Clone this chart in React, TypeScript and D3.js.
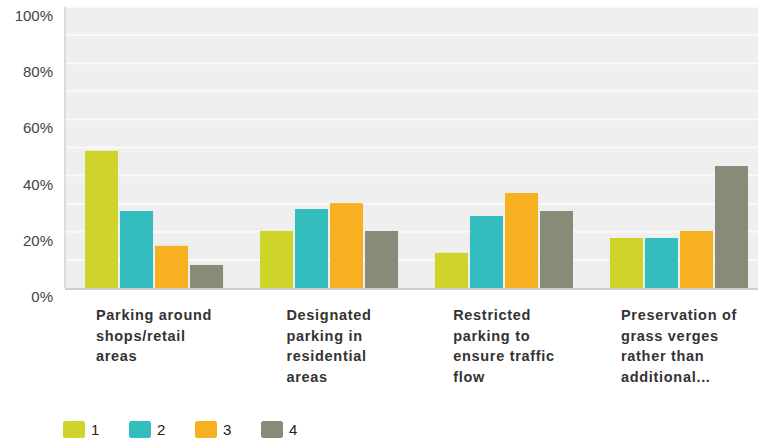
import React, { useEffect, useRef } from "react";
import * as d3 from "d3";

const categories: string[][] = [
  ["Parking around", "shops/retail", "areas"],
  ["Designated", "parking in", "residential", "areas"],
  ["Restricted", "parking to", "ensure traffic", "flow"],
  ["Preservation of", "grass verges", "rather than", "additional..."],
];
const seriesNames = ["1", "2", "3", "4"];
const series1 = [48.8, 20.3, 12.5, 17.8];
const series2 = [27.4, 28.1, 25.6, 17.8];
const series3 = [15.0, 30.2, 33.8, 20.3];
const series4 = [8.2, 20.3, 27.4, 43.4];
const colors = ["#cfd42a", "#33bdbf", "#f7b01f", "#8a8a79"];
const yTicks = [0, 20, 40, 60, 80, 100];
const gridTicks = [10, 20, 30, 40, 50, 60, 70, 80, 90, 100];

const W = 758;
const H = 441;
const FONT = "'Liberation Sans', Arial, sans-serif";

export default function App() {
  const ref = useRef<SVGSVGElement | null>(null);

  useEffect(() => {
    const svg = d3.select(ref.current);
    svg.selectAll("*").remove();
    const allSeries = [series1, series2, series3, series4];

    const left = 66;
    const top = 7;
    const bottom = 288;
    const right = W;

    const y = d3.scaleLinear().domain([0, 100]).range([bottom, top]);
    const x0 = d3
      .scaleBand<number>()
      .domain(d3.range(categories.length))
      .range([64, 769])
      .paddingInner(0.211)
      .paddingOuter(0.12);
    const x1 = d3
      .scaleBand<number>()
      .domain(d3.range(seriesNames.length))
      .range([0, x0.bandwidth()])
      .paddingInner(0.057);

    svg
      .append("rect")
      .attr("x", left)
      .attr("y", top)
      .attr("width", right - left)
      .attr("height", bottom - top)
      .attr("fill", "#efefef");

    svg
      .append("g")
      .selectAll("line")
      .data(gridTicks)
      .join("line")
      .attr("x1", left)
      .attr("x2", right)
      .attr("y1", (d) => y(d))
      .attr("y2", (d) => y(d))
      .attr("stroke", "#fafafa")
      .attr("stroke-width", 2);

    svg
      .append("line")
      .attr("x1", 65)
      .attr("x2", 65)
      .attr("y1", top)
      .attr("y2", bottom)
      .attr("stroke", "#dcdcdc")
      .attr("stroke-width", 2);

    svg
      .append("g")
      .selectAll("text")
      .data(yTicks)
      .join("text")
      .attr("x", 53)
      .attr("y", (d) => y(d) + 14)
      .attr("text-anchor", "end")
      .attr("font-family", FONT)
      .attr("font-size", 15)
      .attr("fill", "#444")
      .text((d) => `${d}%`);

    const groups = svg
      .append("g")
      .selectAll("g")
      .data(categories.map((_, i) => i))
      .join("g")
      .attr("transform", (i) => `translate(${x0(i)},0)`);

    groups
      .selectAll("rect")
      .data((i) => allSeries.map((s, k) => ({ k, v: s[i] })))
      .join("rect")
      .attr("x", (d) => x1(d.k)!)
      .attr("width", x1.bandwidth())
      .attr("y", (d) => y(d.v))
      .attr("height", (d) => bottom - y(d.v))
      .attr("fill", (d) => colors[d.k]);

    svg
      .append("line")
      .attr("x1", 65)
      .attr("x2", right)
      .attr("y1", bottom + 1)
      .attr("y2", bottom + 1)
      .attr("stroke", "#cfcfcf")
      .attr("stroke-width", 2);

    categories.forEach((lines, i) => {
      const g = svg.append("g");
      const texts = g
        .selectAll("text")
        .data(lines)
        .join("text")
        .attr("x", 0)
        .attr("y", (_, j) => 320 + j * 20.5)
        .attr("font-family", FONT)
        .attr("font-size", 14.5)
        .attr("font-weight", "bold")
        .attr("letter-spacing", 0.7)
        .attr("fill", "#333")
        .text((d) => d);
      let maxW = 0;
      texts.each(function () {
        const w = (this as SVGTextElement).getComputedTextLength();
        if (w > maxW) maxW = w;
      });
      const center = x0(i)! + x0.bandwidth() / 2;
      g.attr("transform", `translate(${center - maxW / 2},0)`);
    });

    const legend = svg
      .append("g")
      .selectAll("g")
      .data(seriesNames)
      .join("g")
      .attr("transform", (_, k) => `translate(${63 + k * 66},421)`);
    legend
      .append("rect")
      .attr("width", 22)
      .attr("height", 17)
      .attr("rx", 2.5)
      .attr("fill", (_, k) => colors[k]);
    legend
      .append("text")
      .attr("x", 28)
      .attr("y", 13.5)
      .attr("font-family", FONT)
      .attr("font-size", 15)
      .attr("fill", "#222")
      .text((d) => d);
  }, []);

  return (
    <svg
      ref={ref}
      width={W}
      height={H}
      style={{ position: "absolute", left: 0, top: 0, background: "#fff" }}
    />
  );
}
